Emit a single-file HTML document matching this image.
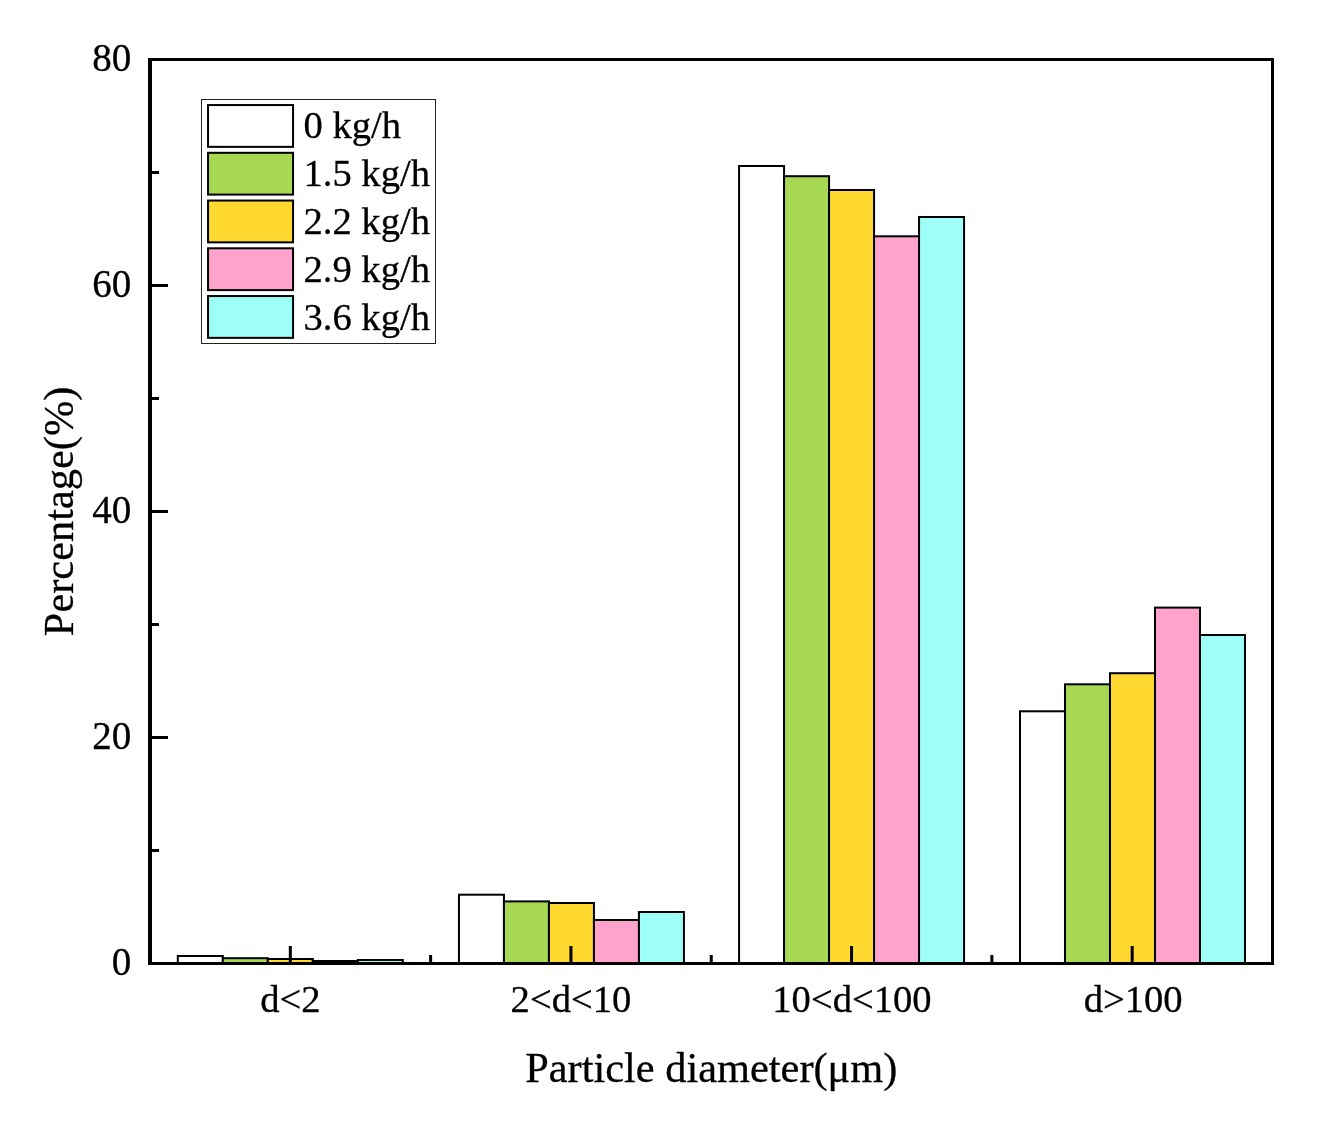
<!DOCTYPE html>
<html lang="en"><head><meta charset="utf-8"><title>Particle diameter distribution</title>
<style>html,body{margin:0;padding:0;background:#fff;}body{width:1338px;height:1128px;overflow:hidden;}svg{display:block;}text{font-family:"Liberation Serif", "Times New Roman", Times, serif;fill:#000;stroke:#000;stroke-width:0.3px;}</style>
</head><body>
<svg width="1338" height="1128" viewBox="0 0 1338 1128">
<rect x="0" y="0" width="1338" height="1128" fill="#ffffff"/>
<g stroke="#000" stroke-width="2" stroke-linejoin="miter">
<rect x="177.81" y="956.00" width="45.00" height="7.50" fill="#FFFFFF"/>
<rect x="222.81" y="958.20" width="45.00" height="5.30" fill="#A6D854"/>
<rect x="267.81" y="959.00" width="45.00" height="4.50" fill="#FFD92F"/>
<rect x="312.81" y="961.00" width="45.00" height="2.50" fill="#FFA2CC"/>
<rect x="357.81" y="960.00" width="45.00" height="3.50" fill="#9EFFF8"/>
<rect x="458.94" y="894.70" width="45.00" height="68.80" fill="#FFFFFF"/>
<rect x="503.94" y="901.40" width="45.00" height="62.10" fill="#A6D854"/>
<rect x="548.94" y="903.00" width="45.00" height="60.50" fill="#FFD92F"/>
<rect x="593.94" y="920.00" width="45.00" height="43.50" fill="#FFA2CC"/>
<rect x="638.94" y="912.00" width="45.00" height="51.50" fill="#9EFFF8"/>
<rect x="739.06" y="166.00" width="45.00" height="797.50" fill="#FFFFFF"/>
<rect x="784.06" y="176.20" width="45.00" height="787.30" fill="#A6D854"/>
<rect x="829.06" y="190.00" width="45.00" height="773.50" fill="#FFD92F"/>
<rect x="874.06" y="236.30" width="45.00" height="727.20" fill="#FFA2CC"/>
<rect x="919.06" y="217.00" width="45.00" height="746.50" fill="#9EFFF8"/>
<rect x="1019.99" y="711.30" width="45.00" height="252.20" fill="#FFFFFF"/>
<rect x="1064.99" y="684.30" width="45.00" height="279.20" fill="#A6D854"/>
<rect x="1109.99" y="673.20" width="45.00" height="290.30" fill="#FFD92F"/>
<rect x="1154.99" y="607.60" width="45.00" height="355.90" fill="#FFA2CC"/>
<rect x="1199.99" y="635.00" width="45.00" height="328.50" fill="#9EFFF8"/>
</g>
<g stroke="#000" fill="none" stroke-linecap="butt">
<line x1="150.00" y1="58.00" x2="150.00" y2="965.00" stroke-width="4"/>
<line x1="148.00" y1="59.50" x2="1274.00" y2="59.50" stroke-width="3"/>
<line x1="1272.50" y1="58.00" x2="1272.50" y2="965.00" stroke-width="3"/>
<line x1="148.00" y1="963.50" x2="1274.00" y2="963.50" stroke-width="3"/>
<line x1="150.00" y1="850.50" x2="159.00" y2="850.50" stroke-width="3"/>
<line x1="150.00" y1="737.50" x2="168.00" y2="737.50" stroke-width="3"/>
<line x1="150.00" y1="624.50" x2="159.00" y2="624.50" stroke-width="3"/>
<line x1="150.00" y1="511.50" x2="168.00" y2="511.50" stroke-width="3"/>
<line x1="150.00" y1="398.50" x2="159.00" y2="398.50" stroke-width="3"/>
<line x1="150.00" y1="285.50" x2="168.00" y2="285.50" stroke-width="3"/>
<line x1="150.00" y1="172.50" x2="159.00" y2="172.50" stroke-width="3"/>
<line x1="290.31" y1="963.50" x2="290.31" y2="946.00" stroke-width="3"/>
<line x1="430.62" y1="963.50" x2="430.62" y2="955.00" stroke-width="3"/>
<line x1="570.94" y1="963.50" x2="570.94" y2="946.00" stroke-width="3"/>
<line x1="711.25" y1="963.50" x2="711.25" y2="955.00" stroke-width="3"/>
<line x1="851.56" y1="963.50" x2="851.56" y2="946.00" stroke-width="3"/>
<line x1="991.88" y1="963.50" x2="991.88" y2="955.00" stroke-width="3"/>
<line x1="1132.19" y1="963.50" x2="1132.19" y2="946.00" stroke-width="3"/>
</g>
<g font-size="39.0" text-anchor="end">
<text x="131.3" y="974.80">0</text>
<text x="131.3" y="748.80">20</text>
<text x="131.3" y="522.80">40</text>
<text x="131.3" y="296.80">60</text>
<text x="131.3" y="70.80">80</text>
</g>
<g font-size="38.6" text-anchor="middle">
<text x="290.31" y="1012.4">d&lt;2</text>
<text x="570.94" y="1012.4">2&lt;d&lt;10</text>
<text x="851.96" y="1012.4">10&lt;d&lt;100</text>
<text x="1133.09" y="1012.4">d&gt;100</text>
</g>
<text x="711.3" y="1082.2" font-size="42.4" text-anchor="middle">Particle diameter(μm)</text>
<text transform="translate(73.2 511.4) rotate(-90)" font-size="42.4" text-anchor="middle">Percentage(%)</text>
<rect x="201.5" y="99.5" width="234" height="244" fill="#fff" stroke="#222" stroke-width="1"/>
<g font-size="38.6">
<rect x="208.05" y="105.05" width="85" height="41.8" fill="#FFFFFF" stroke="#000" stroke-width="2"/>
<text x="303.5" y="138.00">0 kg/h</text>
<rect x="208.05" y="152.80" width="85" height="41.8" fill="#A6D854" stroke="#000" stroke-width="2"/>
<text x="303.5" y="186.00">1.5 kg/h</text>
<rect x="208.05" y="200.55" width="85" height="41.8" fill="#FFD92F" stroke="#000" stroke-width="2"/>
<text x="303.5" y="234.00">2.2 kg/h</text>
<rect x="208.05" y="248.30" width="85" height="41.8" fill="#FFA2CC" stroke="#000" stroke-width="2"/>
<text x="303.5" y="282.00">2.9 kg/h</text>
<rect x="208.05" y="296.05" width="85" height="41.8" fill="#9EFFF8" stroke="#000" stroke-width="2"/>
<text x="303.5" y="330.00">3.6 kg/h</text>
</g>
</svg>
</body></html>
